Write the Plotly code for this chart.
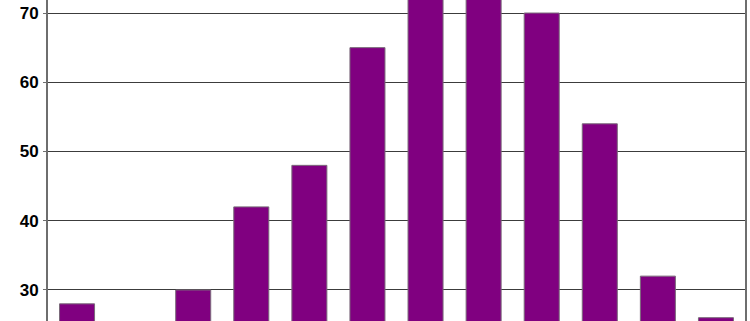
import plotly.graph_objects as go

categories = ["1", "2", "3", "4", "5", "6", "7", "8", "9", "10", "11", "12"]
values = [28, 22, 30, 42, 48, 65, 76, 75, 70, 54, 32, 26]
y_ticks = [30, 40, 50, 60, 70]

fig = go.Figure(go.Bar(
    x=categories, y=values,
    marker=dict(color="#800080", line=dict(color="#7a6a7a", width=1)),
))

fig.update_layout(
    width=750, height=321,
    margin=dict(l=48, r=5, t=0, b=0),
    paper_bgcolor="white", plot_bgcolor="white",
    bargap=0.397,
    showlegend=False,
    font=dict(family="Liberation Sans, Arial, sans-serif"),
)
fig.update_xaxes(showticklabels=False, showgrid=False, zeroline=False,
                 showline=False, ticks="")
fig.update_yaxes(range=[25.52, 71.88], tickvals=y_ticks,
                 showgrid=True, gridcolor="#3c3c3c", gridwidth=1,
                 zeroline=False, showline=True, linecolor="#6e6e6e", linewidth=2,
                 mirror=True, ticks="outside", ticklen=3, tickcolor="#6e6e6e",
                 tickfont=dict(size=17, color="black", family="Liberation Sans, Arial, sans-serif", weight="bold"),
                 ticklabelstandoff=1)

fig.write_html("out.html")
